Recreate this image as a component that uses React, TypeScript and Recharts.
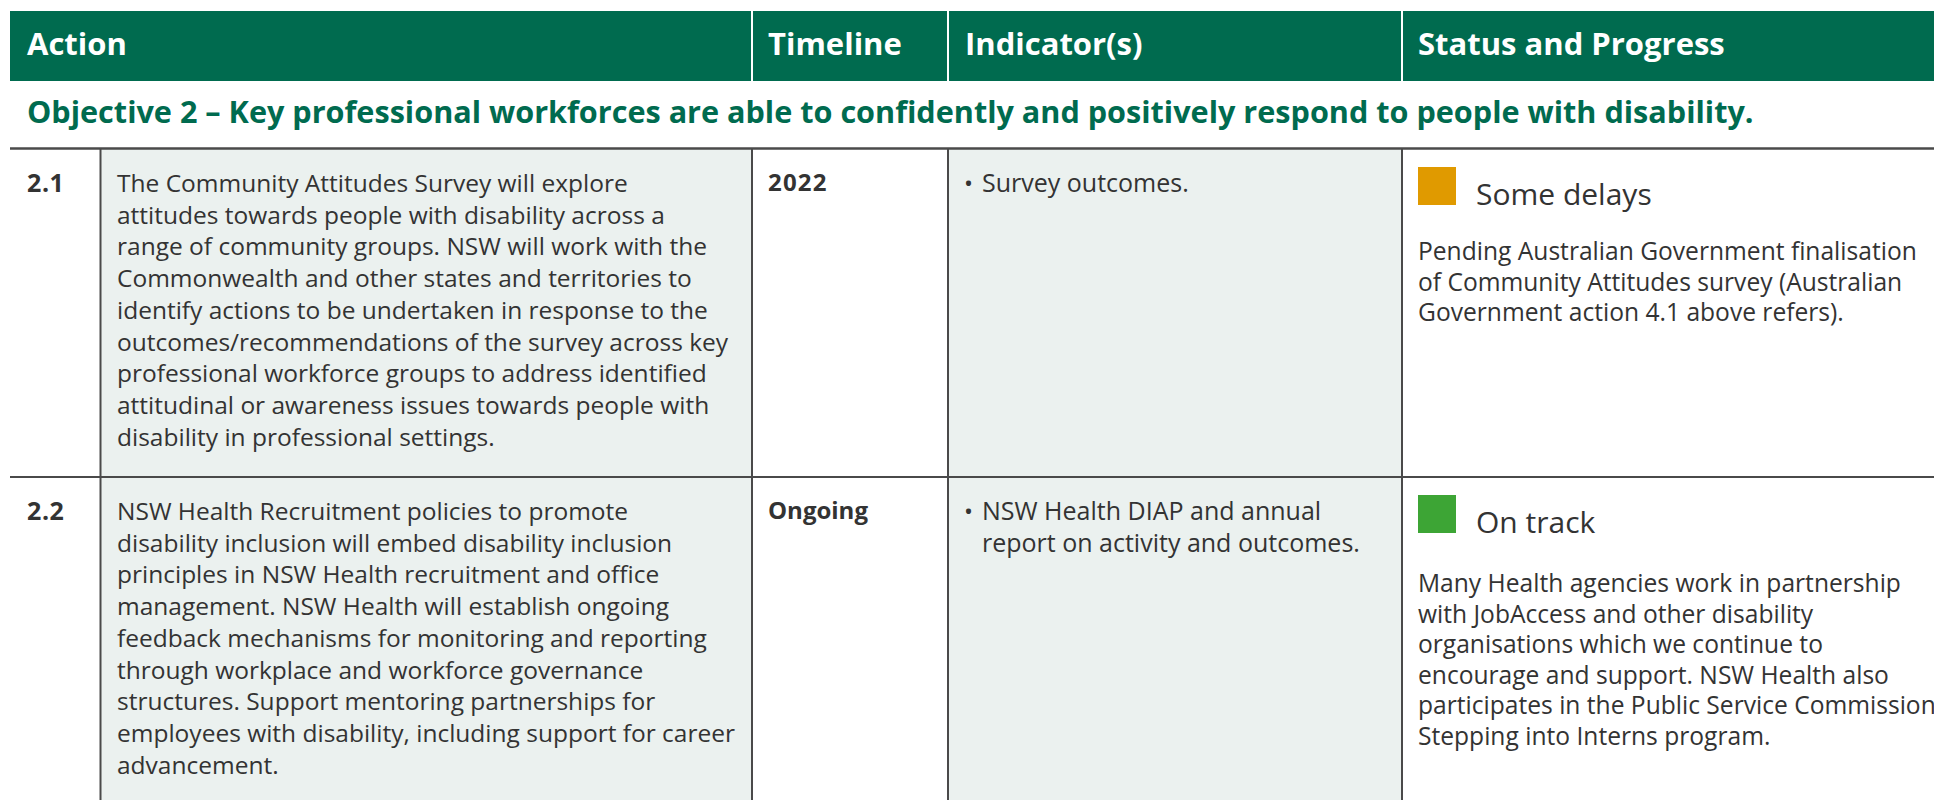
import React from "react";
import {
  ComposedChart,
  XAxis,
  YAxis,
  ReferenceArea,
  ReferenceLine,
} from "recharts";

// table content
const headers = ["Action", "Timeline", "Indicator(s)", "Status and Progress"];
const objective =
  "Objective 2 – Key professional workforces are able to confidently and positively respond to people with disability.";
const actionIds = ["2.1", "2.2"];
const actionText = [
  [
    "The Community Attitudes Survey will explore",
    "attitudes towards people with disability across a",
    "range of community groups. NSW will work with the",
    "Commonwealth and other states and territories to",
    "identify actions to be undertaken in response to the",
    "outcomes/recommendations of the survey across key",
    "professional workforce groups to address identified",
    "attitudinal or awareness issues towards people with",
    "disability in professional settings.",
  ],
  [
    "NSW Health Recruitment policies to promote",
    "disability inclusion will embed disability inclusion",
    "principles in NSW Health recruitment and office",
    "management. NSW Health will establish ongoing",
    "feedback mechanisms for monitoring and reporting",
    "through workplace and workforce governance",
    "structures. Support mentoring partnerships for",
    "employees with disability, including support for career",
    "advancement.",
  ],
];
const timelines = ["2022", "Ongoing"];
const indicators = [
  ["Survey outcomes."],
  ["NSW Health DIAP and annual", "report on activity and outcomes."],
];
const statuses = ["Some delays", "On track"];
const progress = [
  [
    "Pending Australian Government finalisation",
    "of Community Attitudes survey (Australian",
    "Government action 4.1 above refers).",
  ],
  [
    "Many Health agencies work in partnership",
    "with JobAccess and other disability",
    "organisations which we continue to",
    "encourage and support. NSW Health also",
    "participates in the Public Service Commission",
    "Stepping into Interns program.",
  ],
];

// layout
const W = 1934;
const H = 800;
const GREEN = "#006b4f";
const INK = "#333333";
const RULE = "#4a4a4a";
const CELL = "#ebf1ef";
const FONT = "'Open Sans', 'Noto Sans', sans-serif";
const HEADER_TOP = 11;
const HEADER_BOTTOM = 81;
const RULE_Y = 148.5;
const ROW_TOPS = [149, 477];
const COLS = [10, 100.5, 752, 948, 1402, W];
const HEADER_X = [27, 768, 965, 1418];
const LINE = 31.7;
const STATUS_LINE = 30.6;
const PROGRESS_OFFSET = [111, 115];
const statusColor: Record<string, string> = {
  "Some delays": "#e09a00",
  "On track": "#3da535",
};

function TableText() {
  return (
    <g fontFamily={FONT}>
      {headers.map((h, i) => (
        <text key={h} x={HEADER_X[i]} y={55} fill="#fff" fontSize={31} fontWeight={700}>
          {h}
        </text>
      ))}
      <text x={27} y={123} fill={GREEN} fontSize={30.6} fontWeight={700}>
        {objective}
      </text>
      {actionIds.map((id, r) => {
        const top = ROW_TOPS[r];
        return (
          <g key={id} fill={INK}>
            <text x={27} y={top + 43} fontSize={25} fontWeight={700} letterSpacing={0.6}>
              {id}
            </text>
            {actionText[r].map((ln, i) => (
              <text key={i} x={117} y={top + 43 + i * LINE} fontSize={24.5}>
                {ln}
              </text>
            ))}
            <text x={768} y={top + 42} fontSize={24} fontWeight={700} letterSpacing={r === 0 ? 1.2 : 0}>
              {timelines[r]}
            </text>
            <text x={964} y={top + 43} fontSize={24}>
              •
            </text>
            {indicators[r].map((ln, i) => (
              <text key={i} x={982} y={top + 43 + i * LINE} fontSize={25}>
                {ln}
              </text>
            ))}
            <rect x={1418} y={top + 18} width={38} height={38} fill={statusColor[statuses[r]]} />
            <text x={1476} y={top + 56} fontSize={30}>
              {statuses[r]}
            </text>
            {progress[r].map((ln, i) => (
              <text
                key={i}
                x={1418}
                y={top + PROGRESS_OFFSET[r] + i * STATUS_LINE}
                fontSize={24.6}
              >
                {ln}
              </text>
            ))}
          </g>
        );
      })}
    </g>
  );
}

export default function App() {
  return (
    <div style={{ position: "fixed", left: 0, top: 0, width: W, height: H, background: "#fff" }}>
      <ComposedChart width={W} height={H} margin={{ top: 0, right: 0, bottom: 0, left: 0 }}>
        <XAxis type="number" dataKey="x" domain={[0, W]} hide allowDataOverflow />
        <YAxis type="number" dataKey="y" domain={[0, H]} reversed hide allowDataOverflow />
        <ReferenceArea
          x1={COLS[0]}
          x2={W}
          y1={HEADER_TOP}
          y2={HEADER_BOTTOM}
          fill={GREEN}
          fillOpacity={1}
          stroke="none"
        />
        {/* shaded Action column */}
        <ReferenceArea
          x1={COLS[1]}
          x2={COLS[2]}
          y1={ROW_TOPS[0]}
          y2={H}
          fill={CELL}
          fillOpacity={1}
          stroke="none"
        />
        {/* shaded Indicator column, carries the cell texts on top */}
        <ReferenceArea
          x1={COLS[3]}
          x2={COLS[4]}
          y1={ROW_TOPS[0]}
          y2={H}
          fill={CELL}
          fillOpacity={1}
          stroke="none"
          label={<TableText />}
        />
        {COLS.slice(2, 5).map((x) => (
          <ReferenceLine
            key={"h" + x}
            segment={[
              { x, y: HEADER_TOP },
              { x, y: HEADER_BOTTOM },
            ]}
            stroke="#ffffff"
            strokeWidth={2}
          />
        ))}
        <ReferenceLine
          segment={[
            { x: COLS[0], y: RULE_Y },
            { x: W, y: RULE_Y },
          ]}
          stroke={RULE}
          strokeWidth={2.5}
        />
        <ReferenceLine
          segment={[
            { x: COLS[0], y: ROW_TOPS[1] },
            { x: W, y: ROW_TOPS[1] },
          ]}
          stroke={RULE}
          strokeWidth={2}
        />
        {COLS.slice(1, 5).map((x) => (
          <ReferenceLine
            key={"v" + x}
            segment={[
              { x, y: RULE_Y },
              { x, y: H },
            ]}
            stroke={RULE}
            strokeWidth={2}
          />
        ))}
      </ComposedChart>
    </div>
  );
}
